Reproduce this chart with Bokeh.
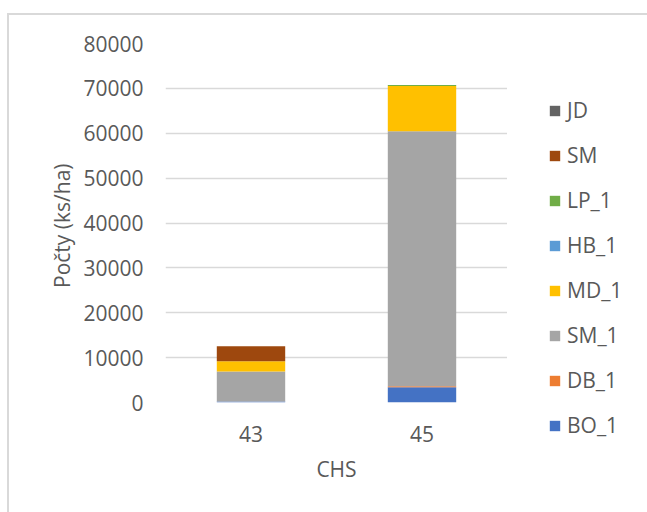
from bokeh.plotting import figure
from bokeh.layouts import row
from bokeh.models import ColumnDataSource, Legend, LegendItem, Range1d, FactorRange, SingleIntervalTicker, NumeralTickFormatter
from bokeh.embed import file_html
from bokeh.resources import INLINE

categories = ["43", "45"]
series = ["BO_1", "DB_1", "SM_1", "MD_1", "HB_1", "LP_1", "SM", "JD"]
BO_1 = [200, 3400]
DB_1 = [0, 200]
SM_1 = [6700, 56850]
MD_1 = [2300, 10100]
HB_1 = [0, 0]
LP_1 = [0, 200]
SM = [3350, 0]
JD = [0, 0]
colors = ["#4472C4", "#ED7D31", "#A5A5A5", "#FFC000", "#5B9BD5", "#70AD47", "#9E480E", "#636363"]

data = {"cat": categories, "BO_1": BO_1, "DB_1": DB_1, "SM_1": SM_1, "MD_1": MD_1,
        "HB_1": HB_1, "LP_1": LP_1, "SM": SM, "JD": JD}
src = ColumnDataSource(data)

FONT = "Open Sans"
TXT = "#595959"
FS = "21px"

frame_css = {
    "background-color": "white",
    "background-image": "linear-gradient(#d9d9d9, #d9d9d9), linear-gradient(#d9d9d9, #d9d9d9)",
    "background-position": "7px 13px, 7px 13px",
    "background-size": "2px 100%, 100% 2px",
    "background-repeat": "no-repeat",
}

p = figure(x_range=FactorRange(*categories, range_padding=0.0), y_range=Range1d(0, 80000),
           width=507, height=512, output_backend="svg", toolbar_location=None,
           min_border_left=165, min_border_top=43, min_border_bottom=110, min_border_right=0)
p.frame_align = False
p.outline_line_color = None
p.border_fill_color = None
p.background_fill_color = None

renderers = p.vbar_stack(series, x="cat", width=0.4, color=colors, line_color=None, source=src)

p.xgrid.grid_line_color = None
p.ygrid.grid_line_color = "#d9d9d9"
p.ygrid.grid_line_width = 1.5

p.yaxis.ticker = SingleIntervalTicker(interval=10000)
p.yaxis.formatter = NumeralTickFormatter(format="0")
for ax in (p.xaxis[0], p.yaxis[0]):
    ax.axis_line_color = None
    ax.major_tick_line_color = None
    ax.minor_tick_line_color = None
    ax.major_tick_out = 0
    ax.major_tick_in = 0
    ax.major_label_text_font = FONT
    ax.major_label_text_font_size = FS
    ax.major_label_text_color = TXT
    ax.axis_label_text_font = FONT
    ax.axis_label_text_font_size = FS
    ax.axis_label_text_color = TXT
    ax.axis_label_text_font_style = "normal"

p.yaxis.major_label_standoff = 18
p.xaxis.major_label_standoff = 23
p.yaxis.axis_label = "Počty  (ks/ha)"
p.xaxis.axis_label = "CHS"
p.yaxis.axis_label_standoff = 4
p.xaxis.axis_label_standoff = 10

# legend panel: a second, axis-less figure; its bars have zero width so only the legend shows
lf = figure(x_range=FactorRange(*categories), y_range=Range1d(0, 80000),
            width=140, height=512, output_backend="svg", toolbar_location=None,
            min_border_left=0, min_border_right=0, min_border_top=0, min_border_bottom=0)
lf.frame_align = False
lf.axis.visible = False
lf.grid.visible = False
lf.outline_line_color = None
lf.border_fill_color = None
lf.background_fill_color = None
lrend = lf.vbar_stack(series, x="cat", width=0, color=colors, line_color=None, source=src)

items = [LegendItem(label=s, renderers=[r]) for s, r in zip(series, lrend)]
items = items[::-1]
legend = Legend(items=items, location=(41, 73), orientation="vertical",
                glyph_width=13, glyph_height=13, label_height=20, spacing=17,
                label_text_font=FONT, label_text_font_size=FS, label_text_color=TXT,
                label_standoff=6, padding=0, margin=0, border_line_color=None,
                background_fill_alpha=0)
lf.add_layout(legend, "center")

layout = row(p, lf, spacing=0, styles=frame_css)

open("out.html", "w").write(file_html(layout, INLINE))
